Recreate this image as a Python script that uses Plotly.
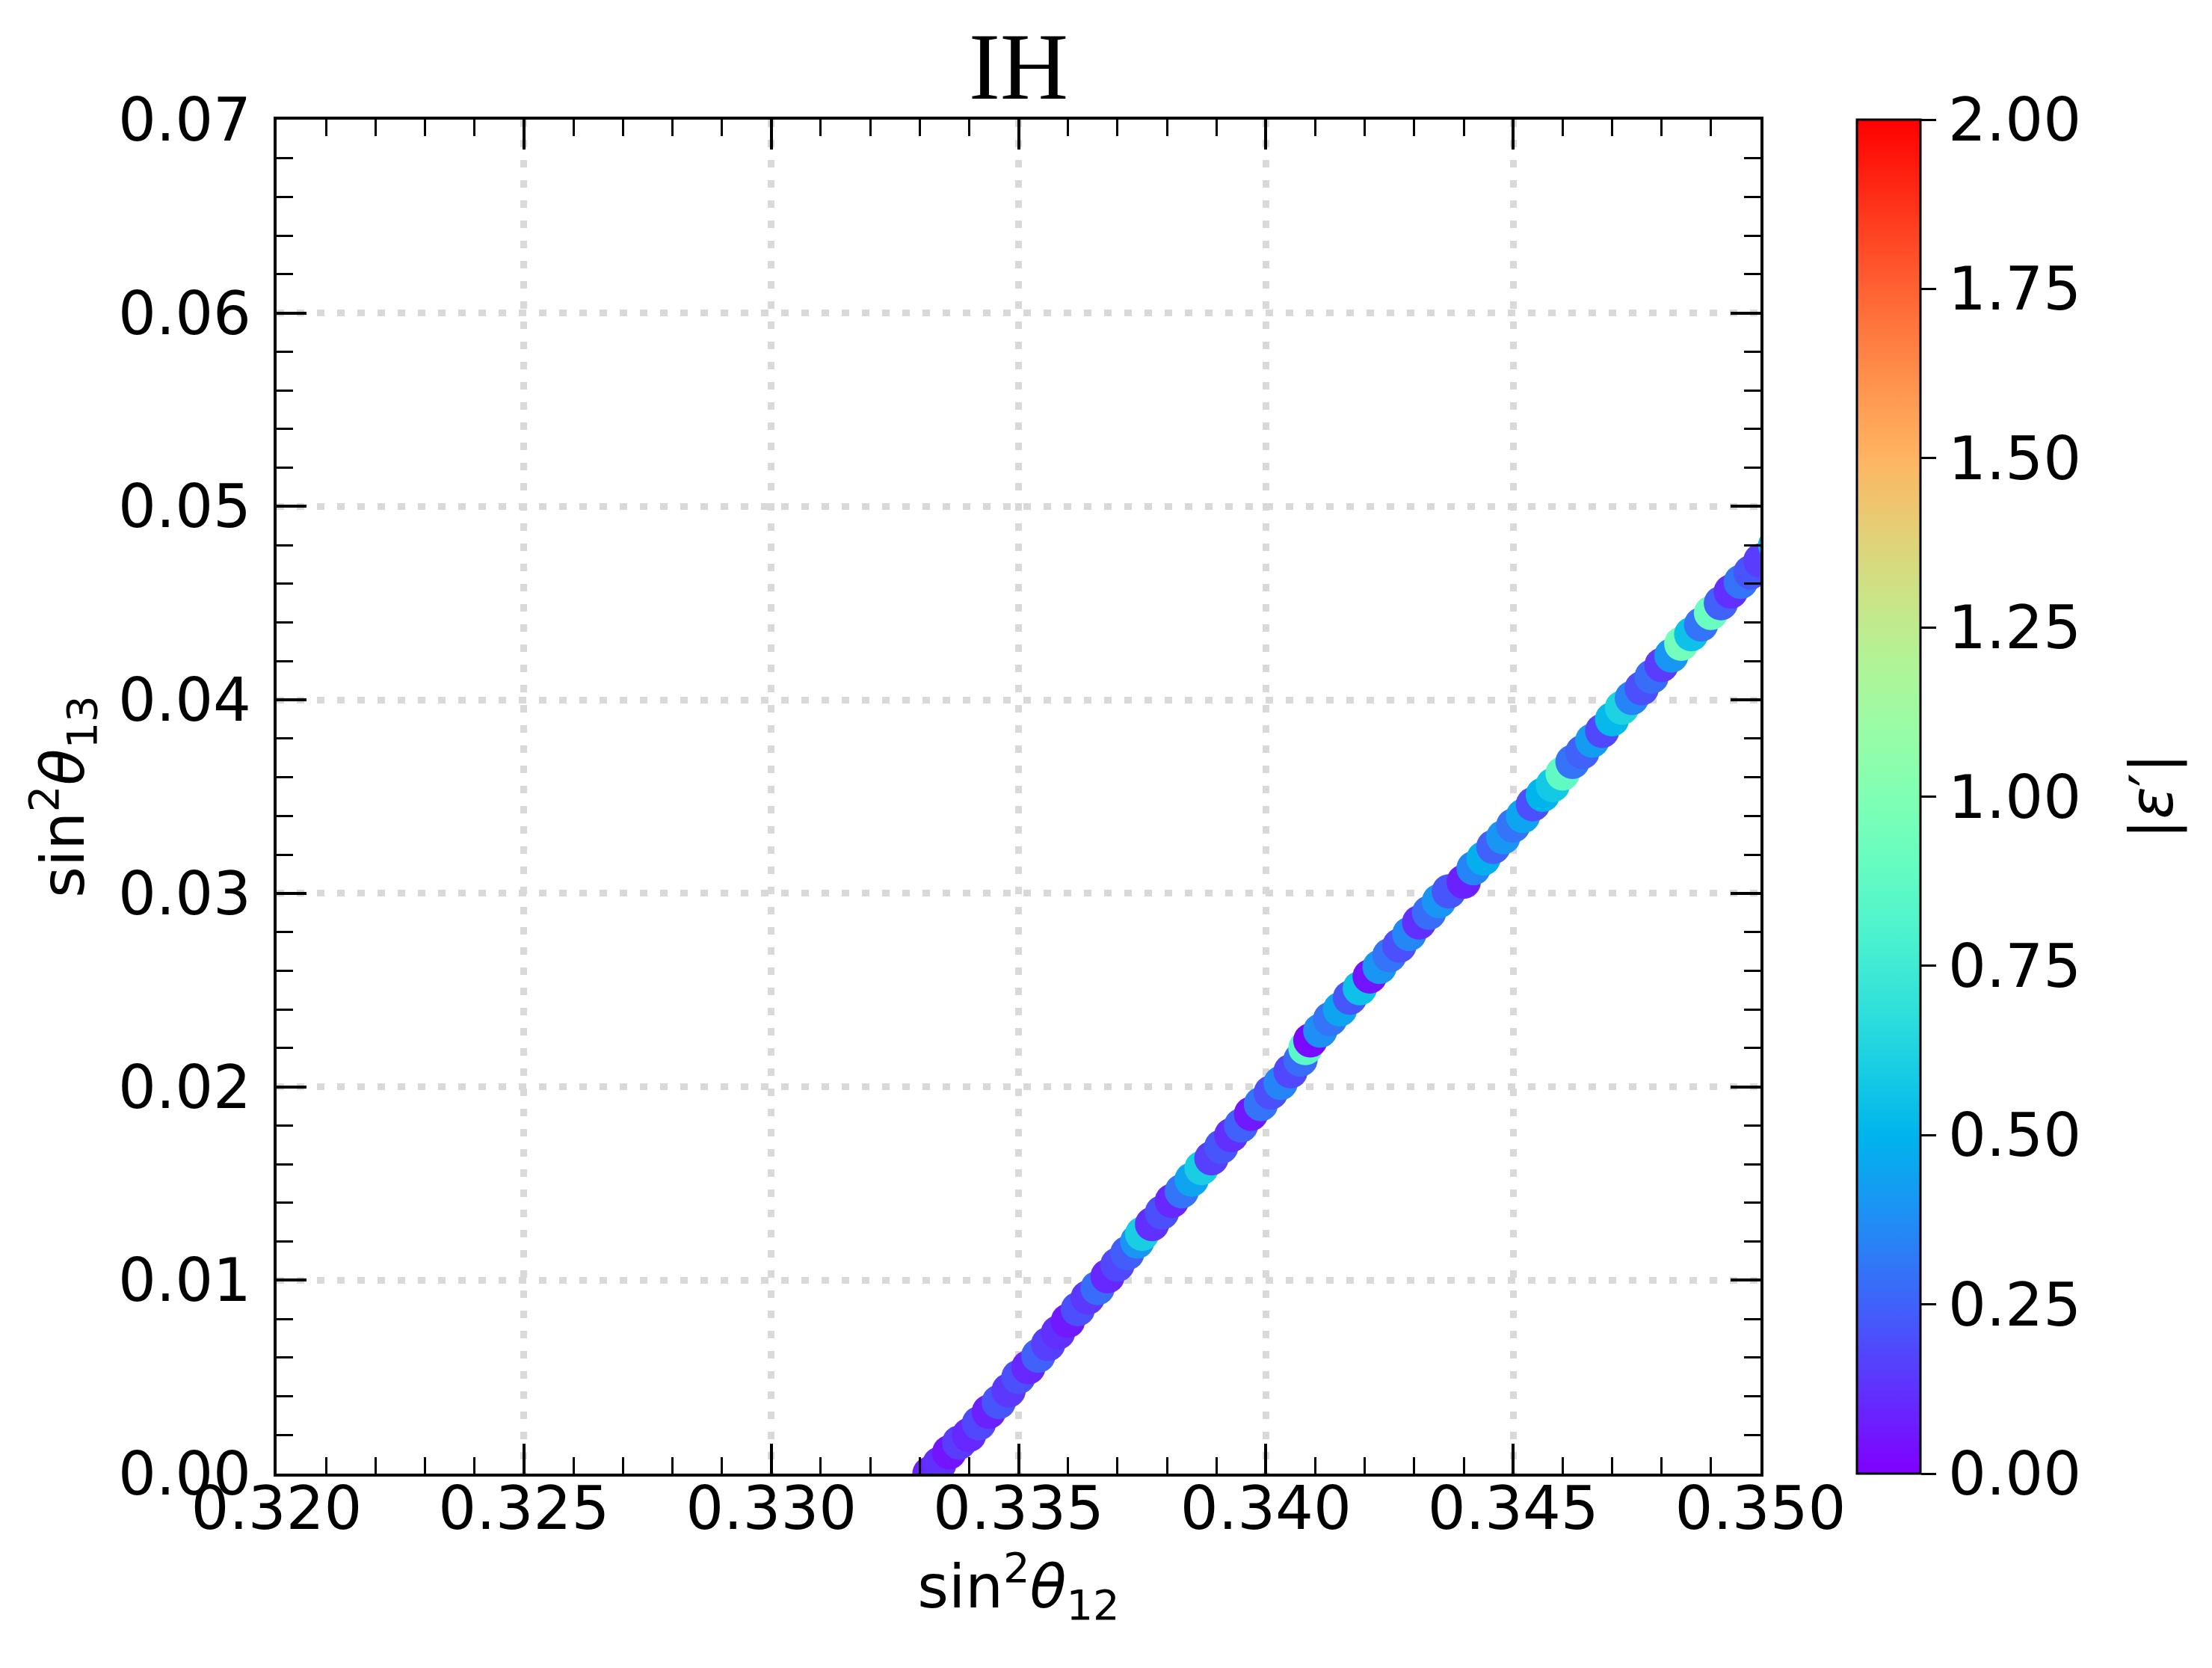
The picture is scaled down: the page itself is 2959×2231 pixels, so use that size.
import math
import plotly.graph_objs as go

# values (sin^2 theta12, sin^2 theta13, |eps'|)
s12_sq = [
    0.3332, 0.3334, 0.3336, 0.3338, 0.3340, 0.3342, 0.3344, 0.3346, 0.3348, 0.3350,
    0.3352, 0.3354, 0.3356, 0.3358, 0.3360, 0.3362, 0.3364, 0.3366, 0.3368, 0.3370,
    0.3372, 0.3374, 0.3375, 0.3377, 0.3379, 0.3381, 0.3383, 0.3385, 0.3387, 0.3389,
    0.3391, 0.3393, 0.3395, 0.3397, 0.3399, 0.3401, 0.3403, 0.3405, 0.3407, 0.3408,
    0.3409, 0.3411, 0.3413, 0.3415, 0.3417, 0.3419, 0.3421, 0.3423, 0.3425, 0.3427,
    0.3429, 0.3431, 0.3433, 0.3435, 0.3437, 0.3440, 0.3442, 0.3444, 0.3446, 0.3448,
    0.3450, 0.3452, 0.3454, 0.3456, 0.3458, 0.3460, 0.3462, 0.3464, 0.3466, 0.3468,
    0.3470, 0.3472, 0.3474, 0.3476, 0.3478, 0.3480, 0.3482, 0.3484, 0.3486, 0.3488,
    0.3490, 0.3492, 0.3494, 0.3496, 0.3498, 0.3500, 0.3503, 0.3505,
]
s13_sq = [
    0.0000, 0.0005, 0.0011, 0.0016, 0.0020, 0.0026, 0.0032, 0.0037, 0.0043, 0.0050,
    0.0055, 0.0061, 0.0067, 0.0073, 0.0079, 0.0085, 0.0091, 0.0096, 0.0102, 0.0108,
    0.0114, 0.0120, 0.0124, 0.0129, 0.0135, 0.0141, 0.0146, 0.0152, 0.0158, 0.0163,
    0.0169, 0.0175, 0.0180, 0.0186, 0.0191, 0.0197, 0.0202, 0.0208, 0.0214, 0.0220,
    0.0224, 0.0229, 0.0235, 0.0240, 0.0246, 0.0251, 0.0257, 0.0262, 0.0268, 0.0273,
    0.0279, 0.0285, 0.0290, 0.0296, 0.0301, 0.0306, 0.0313, 0.0318, 0.0324, 0.0329,
    0.0335, 0.0340, 0.0346, 0.0351, 0.0356, 0.0362, 0.0368, 0.0373, 0.0379, 0.0384,
    0.0390, 0.0396, 0.0401, 0.0406, 0.0412, 0.0418, 0.0423, 0.0429, 0.0434, 0.0439,
    0.0445, 0.0450, 0.0456, 0.0461, 0.0466, 0.0472, 0.0480, 0.0486,
]
eps_abs = [
    0.08, 0.12, 0.05, 0.15, 0.10, 0.18, 0.08, 0.22, 0.14, 0.20,
    0.10, 0.25, 0.16, 0.12, 0.06, 0.20, 0.14, 0.28, 0.10, 0.18,
    0.24, 0.40, 0.60, 0.12, 0.20, 0.10, 0.30, 0.45, 0.60, 0.16,
    0.22, 0.12, 0.25, 0.06, 0.30, 0.20, 0.35, 0.18, 0.28, 0.85,
    0.02, 0.38, 0.30, 0.45, 0.22, 0.55, 0.05, 0.40, 0.30, 0.20,
    0.36, 0.12, 0.28, 0.40, 0.22, 0.08, 0.35, 0.48, 0.25, 0.40,
    0.30, 0.45, 0.20, 0.50, 0.58, 0.88, 0.30, 0.25, 0.42, 0.18,
    0.52, 0.62, 0.35, 0.20, 0.28, 0.15, 0.40, 0.95, 0.55, 0.30,
    0.92, 0.25, 0.12, 0.30, 0.22, 0.15, 0.50, 0.80,
]
cbar_ticks = [0.0, 0.25, 0.5, 0.75, 1.0, 1.25, 1.5, 1.75, 2.0]


def rainbow(n=21):
    # matplotlib "rainbow" colormap as a plotly colorscale
    scale = []
    for i in range(n):
        t = i / (n - 1)
        r = min(1.0, abs(2 * t - 0.5))
        g = math.sin(math.pi * t)
        b = math.cos(math.pi * t / 2)
        scale.append([t, "rgb(%d,%d,%d)" % (round(r * 255), round(g * 255), round(b * 255))])
    return scale


# plot area in pixels
left, right, top, bottom = 362, 2347, 152, 1963
W, H = 2959, 2231
pw = right - left

fig = go.Figure()

fig.add_trace(
    go.Scatter(
        x=s12_sq,
        y=s13_sq,
        mode="markers",
        marker=dict(
            size=46,
            color=eps_abs,
            cmin=0,
            cmax=2,
            colorscale=rainbow(),
            line=dict(width=0),
            colorbar=dict(
                x=(2476 - left) / pw,
                xanchor="left",
                xpad=0,
                ypad=0,
                y=0.5,
                yanchor="middle",
                len=1,
                lenmode="fraction",
                thickness=85,
                thicknessmode="pixels",
                outlinewidth=3,
                outlinecolor="black",
                ticks="outside",
                ticklen=20,
                tickwidth=3,
                tickcolor="black",
                tickvals=cbar_ticks,
                tickformat=".2f",
                tickfont=dict(family="DejaVu Sans", size=80, color="black"),
            ),
        ),
        showlegend=False,
    )
)

fig.update_layout(
    width=W,
    height=H,
    plot_bgcolor="white",
    paper_bgcolor="white",
    margin=dict(l=left, r=W - right, t=top, b=H - bottom),
    title=dict(
        text="IH",
        x=(left + right) / 2 / W,
        xanchor="center",
        y=1 - 80 / H,
        yanchor="middle",
        font=dict(family="Liberation Serif", size=126, color="black"),
    ),
    font=dict(family="DejaVu Sans", color="black"),
    annotations=[
        dict(
            text="|<i>ε</i>′|",
            xref="paper",
            yref="paper",
            x=(2870 - left) / pw,
            y=0.5,
            xanchor="center",
            yanchor="middle",
            textangle=-90,
            showarrow=False,
            font=dict(family="DejaVu Sans", size=80, color="black"),
        )
    ],
)

axis_style = dict(
    showline=True,
    linewidth=4,
    linecolor="black",
    mirror="ticks",
    ticks="inside",
    ticklen=40,
    tickwidth=4,
    tickcolor="black",
    tickfont=dict(family="DejaVu Sans", size=80, color="black"),
    showgrid=True,
    gridcolor="#d9d9d9",
    gridwidth=9,
    griddash="10px,17px",
    zeroline=False,
)

fig.update_xaxes(
    range=[0.32, 0.35],
    dtick=0.005,
    tick0=0.32,
    tickformat=".3f",
    minor=dict(dtick=0.001, ticks="inside", ticklen=22, tickwidth=3, tickcolor="black", showgrid=False),
    title=dict(
        text="sin<sup>2</sup><i>θ</i><sub>12</sub>",
        font=dict(family="DejaVu Sans", size=80, color="black"),
        standoff=30,
    ),
    ticklabelstandoff=-26,
    **axis_style,
)
fig.update_yaxes(
    range=[0, 0.07],
    dtick=0.01,
    tick0=0,
    tickformat=".2f",
    minor=dict(dtick=0.002, ticks="inside", ticklen=22, tickwidth=3, tickcolor="black", showgrid=False),
    title=dict(
        text="sin<sup>2</sup><i>θ</i><sub>13</sub>",
        font=dict(family="DejaVu Sans", size=80, color="black"),
        standoff=20,
    ),
    ticklabelstandoff=14,
    **axis_style,
)

fig.write_html("out.html")
